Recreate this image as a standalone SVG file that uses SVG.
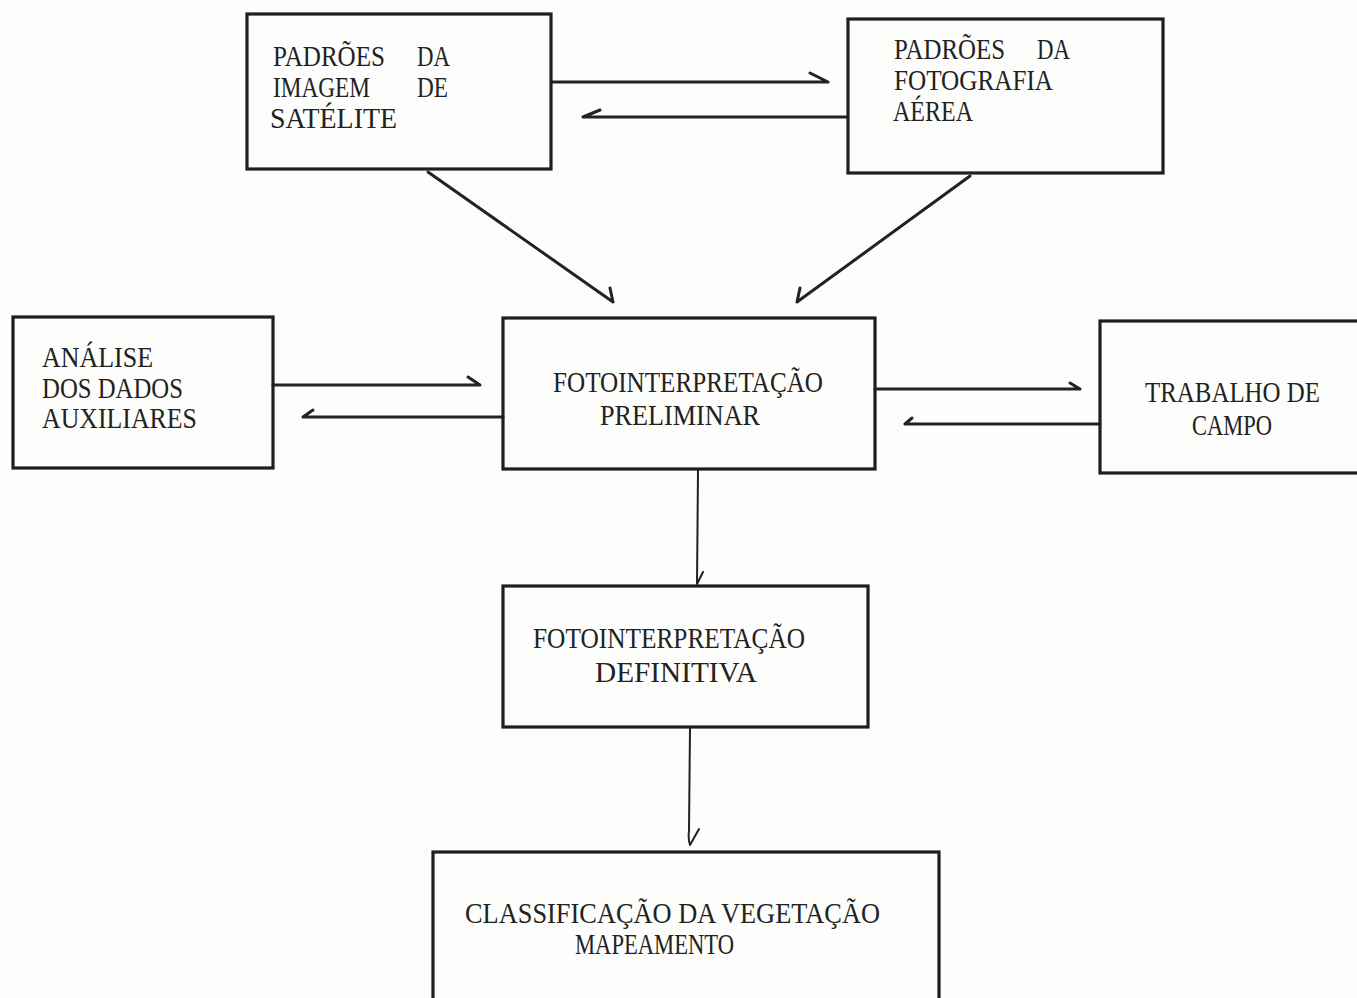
<svg xmlns="http://www.w3.org/2000/svg" width="1357" height="998" viewBox="0 0 1357 998">
<style>
.box{fill:none;stroke:#1e1e1e;stroke-width:3.2}
.t{font-family:"Liberation Serif","DejaVu Serif",serif;font-size:29px;fill:#222}
.c{fill:none;stroke:#222;stroke-width:3;stroke-linecap:round;stroke-linejoin:round}
.v{fill:none;stroke:#222;stroke-width:2;stroke-linecap:round;stroke-linejoin:round}
</style>
<rect x="0" y="0" width="1357" height="998" fill="#fdfdfb"/>
<g id="connectors">
  <path class="c" d="M552 82 L828 82 M828 82 L810 73"/>
  <path class="c" d="M847 117 L583 117 M583 117 L600 110"/>
  <path class="c" d="M428 172 L613 302 M613 302 L610 288"/>
  <path class="c" d="M970 176 L797 302 M797 302 L800 288"/>
  <path class="c" d="M273 385 L480 385 M480 385 L468 377"/>
  <path class="c" d="M503 417 L303 417 M303 417 L313 410"/>
  <path class="c" d="M875 389 L1080 389 M1080 389 L1070 383"/>
  <path class="c" d="M1100 424 L905 424 M905 424 L912 418"/>
  <path class="v" d="M698 470 L697 584 M697 584 L703 572"/>
  <path class="v" d="M690 728 L689 830 Q688 840 690 845 L699 829"/>
</g>
<g id="n-satelite">
  <rect class="box" x="247" y="14" width="304" height="155"/>
  <text class="t" x="273" y="66" textLength="112" lengthAdjust="spacingAndGlyphs">PADRÕES</text><text class="t" x="417" y="66" textLength="33" lengthAdjust="spacingAndGlyphs">DA</text>
  <text class="t" x="273" y="97" textLength="97" lengthAdjust="spacingAndGlyphs">IMAGEM</text><text class="t" x="417" y="97" textLength="31" lengthAdjust="spacingAndGlyphs">DE</text>
  <text class="t" x="270" y="128" textLength="127" lengthAdjust="spacingAndGlyphs">SATÉLITE</text>
</g>
<g id="n-fotografia">
  <rect class="box" x="848" y="19" width="315" height="154"/>
  <text class="t" x="894" y="59" textLength="111" lengthAdjust="spacingAndGlyphs">PADRÕES</text><text class="t" x="1037" y="59" textLength="33" lengthAdjust="spacingAndGlyphs">DA</text>
  <text class="t" x="894" y="90" textLength="159" lengthAdjust="spacingAndGlyphs">FOTOGRAFIA</text>
  <text class="t" x="893" y="121" textLength="80" lengthAdjust="spacingAndGlyphs">AÉREA</text>
</g>
<g id="n-analise">
  <rect class="box" x="13" y="317" width="260" height="151"/>
  <text class="t" x="42" y="367" textLength="111" lengthAdjust="spacingAndGlyphs">ANÁLISE</text>
  <text class="t" x="42" y="398" textLength="141" lengthAdjust="spacingAndGlyphs">DOS DADOS</text>
  <text class="t" x="42" y="428" textLength="155" lengthAdjust="spacingAndGlyphs">AUXILIARES</text>
</g>
<g id="n-preliminar">
  <rect class="box" x="503" y="318" width="372" height="151"/>
  <text class="t" x="553" y="392" textLength="270" lengthAdjust="spacingAndGlyphs">FOTOINTERPRETAÇÃO</text>
  <text class="t" x="600" y="425" textLength="160" lengthAdjust="spacingAndGlyphs">PRELIMINAR</text>
</g>
<g id="n-campo">
  <rect class="box" x="1100" y="321" width="280" height="152"/>
  <text class="t" x="1145" y="402" textLength="175" lengthAdjust="spacingAndGlyphs">TRABALHO DE</text>
  <text class="t" x="1192" y="435" textLength="80" lengthAdjust="spacingAndGlyphs">CAMPO</text>
</g>
<g id="n-definitiva">
  <rect class="box" x="503" y="586" width="365" height="141"/>
  <text class="t" x="533" y="648" textLength="272" lengthAdjust="spacingAndGlyphs">FOTOINTERPRETAÇÃO</text>
  <text class="t" x="595" y="682" textLength="162" lengthAdjust="spacingAndGlyphs">DEFINITIVA</text>
</g>
<g id="n-classificacao">
  <rect class="box" x="433" y="852" width="506" height="170"/>
  <text class="t" x="465" y="923" textLength="415" lengthAdjust="spacingAndGlyphs">CLASSIFICAÇÃO DA VEGETAÇÃO</text>
  <text class="t" x="575" y="954" textLength="159" lengthAdjust="spacingAndGlyphs">MAPEAMENTO</text>
</g>
</svg>
